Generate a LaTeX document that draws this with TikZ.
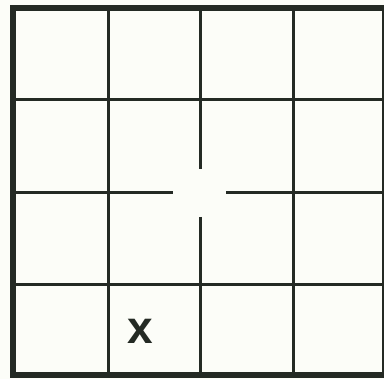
\documentclass[tikz,border=0pt]{standalone}
\usepackage{fontspec}
\setmainfont{Liberation Sans}
\usepackage{xcolor}
\usetikzlibrary{positioning}

\definecolor{ink}{RGB}{36,42,36}
\definecolor{paper}{RGB}{252,253,248}

\begin{document}
\begin{tikzpicture}[
    x=1pt, y=-1pt,
    frame/.style={draw=ink, line width=6pt},
    wall/.style={draw=ink, line width=3pt},
    cross/.style={text=ink, inner sep=0pt, font=\fontsize{46}{46}\selectfont\bfseries}
]
  \fill[paper] (0,0) rectangle (384,379);
  \useasboundingbox (0,0) rectangle (384,379);

  % outer frame
  \draw[frame] (13,8) rectangle (385,375);

  % full grid lines
  \foreach \gx in {108,293} \draw[wall] (\gx,8) -- (\gx,375);
  \foreach \gy in {100,285} \draw[wall] (13,\gy) -- (385,\gy);

  % middle lines, open at the centre
  \coordinate (top) at (200,8);
  \coordinate (topend) at (200,169);
  \coordinate (botstart) at (200,217);
  \coordinate (bot) at (200,375);
  \coordinate (left) at (13,193);
  \coordinate (leftend) at (173,193);
  \coordinate (rightstart) at (226,193);
  \coordinate (right) at (385,193);
  \draw[wall] (top) -- (topend);
  \draw[wall] (botstart) -- (bot);
  \draw[wall] (left) -- (leftend);
  \draw[wall] (rightstart) -- (right);

  \node[cross] (x) at (140,331) {x};
\end{tikzpicture}
\end{document}
